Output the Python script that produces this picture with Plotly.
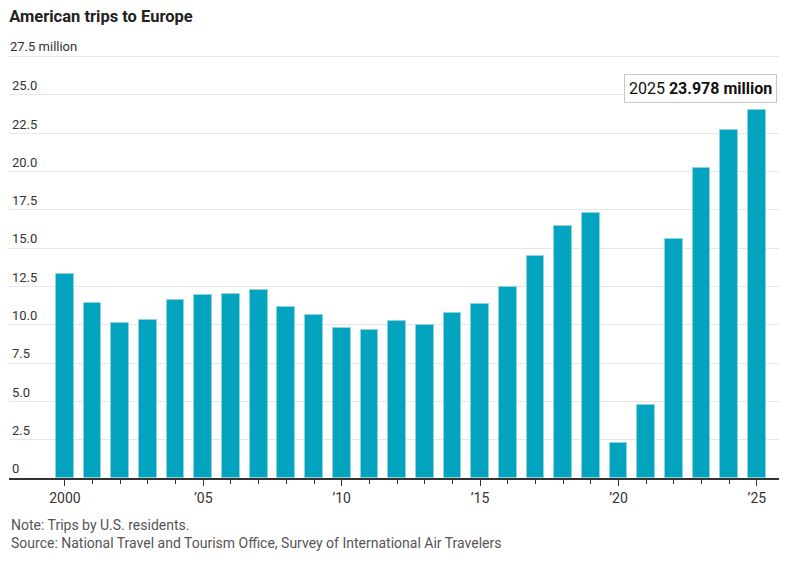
import plotly.graph_objects as go

# American trips to Europe, million
years = list(range(2000, 2026))
trips = [13.33, 11.42, 10.13, 10.28, 11.64, 11.92, 12.0, 12.27, 11.18, 10.62,
         9.78, 9.63, 10.21, 9.98, 10.78, 11.37, 12.48, 14.48, 16.42, 17.27,
         2.28, 4.79, 15.56, 20.19, 22.71, 23.978]

ytick_vals = [0, 2.5, 5.0, 7.5, 10.0, 12.5, 15.0, 17.5, 20.0, 22.5, 25.0, 27.5]
ytick_text = ["0", "2.5", "5.0", "7.5", "10.0", "12.5", "15.0", "17.5", "20.0", "22.5", "25.0", ""]
top_label = "27.5 million"
xtick_vals = [2000, 2005, 2010, 2015, 2020, 2025]
xtick_text = ["2000", "\u201905", "\u201910", "\u201915", "\u201920", "\u201925"]

FONT = "Roboto, sans-serif"

fig = go.Figure()
fig.add_trace(go.Bar(
    x=years, y=trips, width=0.64,
    marker=dict(color="#02a4bf", line=dict(color="#8fd3df", width=1)),
    hoverinfo="skip",
))

# callout on latest value
fig.add_annotation(
    x=years[-1], y=trips[-1], xref="x", yref="y",
    text=f"{years[-1]} <b>{trips[-1]:.3f} million</b>",
    showarrow=False, xanchor="right", yanchor="bottom",
    xshift=20, yshift=7,
    font=dict(family=FONT, size=16, color="#111"),
    bgcolor="white", bordercolor="#c8c8c8", borderwidth=1, borderpad=4,
)

# top tick label with unit (kept out of tick labels so the x labels are not hidden)
fig.add_annotation(
    x=0, xref="paper", y=ytick_vals[-1], yref="y",
    text=top_label, showarrow=False, xanchor="left", yanchor="bottom",
    xshift=-1, font=dict(family=FONT, size=13, color="#333"),
)

# page body adds 8px, so figure is sized 784x556
fig.update_layout(
    width=784, height=556,
    margin=dict(l=1, r=13, t=30, b=86),
    plot_bgcolor="white", paper_bgcolor="white",
    showlegend=False,
    font=dict(family=FONT, color="#333"),
    title=dict(text="<b>American trips to Europe</b>", x=0.0015, xanchor="left",
               y=0.986, yanchor="middle",
               font=dict(family=FONT, size=16.5, color="#222")),
    bargap=0,
)

fig.update_xaxes(
    range=[1997.98, 2025.8],
    tickvals=xtick_vals, ticktext=xtick_text,
    ticks="outside", ticklen=6, tickcolor="#333", tickwidth=1,
    minor=dict(tickvals=years, ticks="outside", ticklen=4, tickcolor="#333"),
    showline=True, linecolor="#333", linewidth=1.5,
    showgrid=False, zeroline=False, automargin=False,
    tickfont=dict(size=14, color="#333"),
)
fig.update_yaxes(
    range=[0, 28.7],
    tickvals=ytick_vals, ticktext=ytick_text,
    ticklabelposition="inside top", ticks="",
    showgrid=True, gridcolor="#e6e6e6", gridwidth=1,
    zeroline=False, showline=False, automargin=False,
    tickfont=dict(size=13, color="#333"),
)

fig.add_annotation(
    text="Note: Trips by U.S. residents.<br>Source: National Travel and Tourism Office, Survey of International Air Travelers",
    xref="paper", yref="paper", x=0, y=-0.084, xanchor="left", yanchor="top",
    showarrow=False, align="left",
    font=dict(family=FONT, size=14, color="#555"),
)

fig.write_html("out.html")
